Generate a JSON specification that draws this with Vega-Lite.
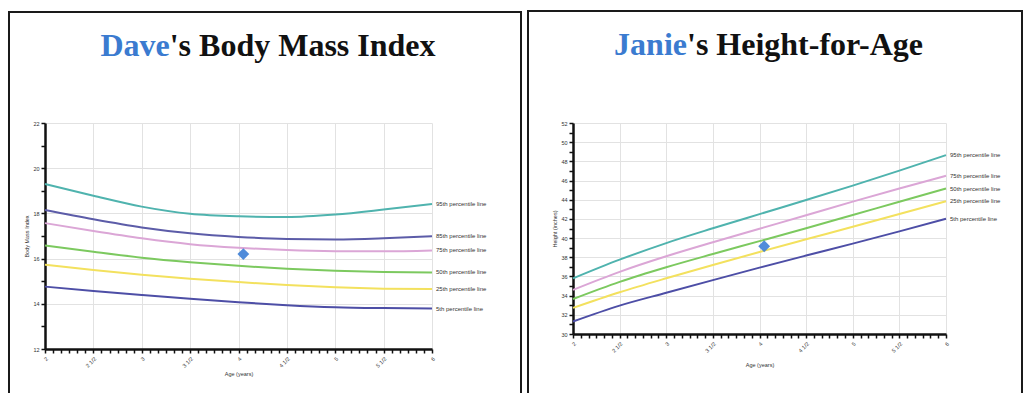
{
  "$schema": "https://vega.github.io/schema/vega-lite/v6.json",
  "padding": {"left": 7, "top": 10, "right": 0, "bottom": 0},
  "background": "white",
  "spacing": 3,
  "config": {
    "view": {"stroke": null},
    "font": "Liberation Sans",
    "axis": {
      "domainColor": "#111",
      "domainWidth": 2.5,
      "tickColor": "#111",
      "tickWidth": 1.5,
      "tickSize": 4,
      "tickCount": 100,
      "labelFontSize": 5.5,
      "labelColor": "#333",
      "labelFont": "Liberation Sans",
      "titleFontSize": 5.5,
      "titleFontWeight": "normal",
      "titleColor": "#333",
      "titleFont": "Liberation Sans",
      "gridColor": "#e2e2e2",
      "gridWidth": 1
    }
  },
  "datasets": {
    "bmi": [
      {"age": 2, "pct": "95th percentile line", "value": 19.3},
      {"age": 2.5, "pct": "95th percentile line", "value": 18.78},
      {"age": 3, "pct": "95th percentile line", "value": 18.3},
      {"age": 3.5, "pct": "95th percentile line", "value": 17.98},
      {"age": 4, "pct": "95th percentile line", "value": 17.87},
      {"age": 4.5, "pct": "95th percentile line", "value": 17.84},
      {"age": 5, "pct": "95th percentile line", "value": 17.95},
      {"age": 5.5, "pct": "95th percentile line", "value": 18.17},
      {"age": 6, "pct": "95th percentile line", "value": 18.42},
      {"age": 2, "pct": "85th percentile line", "value": 18.15},
      {"age": 2.5, "pct": "85th percentile line", "value": 17.74},
      {"age": 3, "pct": "85th percentile line", "value": 17.38},
      {"age": 3.5, "pct": "85th percentile line", "value": 17.12},
      {"age": 4, "pct": "85th percentile line", "value": 16.96},
      {"age": 4.5, "pct": "85th percentile line", "value": 16.87},
      {"age": 5, "pct": "85th percentile line", "value": 16.85},
      {"age": 5.5, "pct": "85th percentile line", "value": 16.9},
      {"age": 6, "pct": "85th percentile line", "value": 16.99},
      {"age": 2, "pct": "75th percentile line", "value": 17.57},
      {"age": 2.5, "pct": "75th percentile line", "value": 17.22},
      {"age": 3, "pct": "75th percentile line", "value": 16.9},
      {"age": 3.5, "pct": "75th percentile line", "value": 16.64},
      {"age": 4, "pct": "75th percentile line", "value": 16.48},
      {"age": 4.5, "pct": "75th percentile line", "value": 16.38},
      {"age": 5, "pct": "75th percentile line", "value": 16.33},
      {"age": 5.5, "pct": "75th percentile line", "value": 16.32},
      {"age": 6, "pct": "75th percentile line", "value": 16.36},
      {"age": 2, "pct": "50th percentile line", "value": 16.58},
      {"age": 2.5, "pct": "50th percentile line", "value": 16.3},
      {"age": 3, "pct": "50th percentile line", "value": 16.04},
      {"age": 3.5, "pct": "50th percentile line", "value": 15.84},
      {"age": 4, "pct": "50th percentile line", "value": 15.68},
      {"age": 4.5, "pct": "50th percentile line", "value": 15.55},
      {"age": 5, "pct": "50th percentile line", "value": 15.46},
      {"age": 5.5, "pct": "50th percentile line", "value": 15.41},
      {"age": 6, "pct": "50th percentile line", "value": 15.39},
      {"age": 2, "pct": "25th percentile line", "value": 15.73},
      {"age": 2.5, "pct": "25th percentile line", "value": 15.5},
      {"age": 3, "pct": "25th percentile line", "value": 15.29},
      {"age": 3.5, "pct": "25th percentile line", "value": 15.11},
      {"age": 4, "pct": "25th percentile line", "value": 14.96},
      {"age": 4.5, "pct": "25th percentile line", "value": 14.83},
      {"age": 5, "pct": "25th percentile line", "value": 14.73},
      {"age": 5.5, "pct": "25th percentile line", "value": 14.67},
      {"age": 6, "pct": "25th percentile line", "value": 14.65},
      {"age": 2, "pct": "5th percentile line", "value": 14.76},
      {"age": 2.5, "pct": "5th percentile line", "value": 14.57},
      {"age": 3, "pct": "5th percentile line", "value": 14.39},
      {"age": 3.5, "pct": "5th percentile line", "value": 14.22},
      {"age": 4, "pct": "5th percentile line", "value": 14.07},
      {"age": 4.5, "pct": "5th percentile line", "value": 13.94},
      {"age": 5, "pct": "5th percentile line", "value": 13.85},
      {"age": 5.5, "pct": "5th percentile line", "value": 13.81},
      {"age": 6, "pct": "5th percentile line", "value": 13.79}
    ],
    "height": [
      {"age": 2, "pct": "95th percentile line", "value": 35.8},
      {"age": 2.5, "pct": "95th percentile line", "value": 37.75},
      {"age": 3, "pct": "95th percentile line", "value": 39.48},
      {"age": 3.5, "pct": "95th percentile line", "value": 41.02},
      {"age": 4, "pct": "95th percentile line", "value": 42.5},
      {"age": 4.5, "pct": "95th percentile line", "value": 43.97},
      {"age": 5, "pct": "95th percentile line", "value": 45.47},
      {"age": 5.5, "pct": "95th percentile line", "value": 47.03},
      {"age": 6, "pct": "95th percentile line", "value": 48.65},
      {"age": 2, "pct": "75th percentile line", "value": 34.6},
      {"age": 2.5, "pct": "75th percentile line", "value": 36.48},
      {"age": 3, "pct": "75th percentile line", "value": 38.1},
      {"age": 3.5, "pct": "75th percentile line", "value": 39.56},
      {"age": 4, "pct": "75th percentile line", "value": 40.97},
      {"age": 4.5, "pct": "75th percentile line", "value": 42.38},
      {"age": 5, "pct": "75th percentile line", "value": 43.8},
      {"age": 5.5, "pct": "75th percentile line", "value": 45.17},
      {"age": 6, "pct": "75th percentile line", "value": 46.5},
      {"age": 2, "pct": "50th percentile line", "value": 33.65},
      {"age": 2.5, "pct": "50th percentile line", "value": 35.44},
      {"age": 3, "pct": "50th percentile line", "value": 36.96},
      {"age": 3.5, "pct": "50th percentile line", "value": 38.34},
      {"age": 4, "pct": "50th percentile line", "value": 39.68},
      {"age": 4.5, "pct": "50th percentile line", "value": 41.03},
      {"age": 5, "pct": "50th percentile line", "value": 42.41},
      {"age": 5.5, "pct": "50th percentile line", "value": 43.79},
      {"age": 6, "pct": "50th percentile line", "value": 45.17},
      {"age": 2, "pct": "25th percentile line", "value": 32.72},
      {"age": 2.5, "pct": "25th percentile line", "value": 34.35},
      {"age": 3, "pct": "25th percentile line", "value": 35.81},
      {"age": 3.5, "pct": "25th percentile line", "value": 37.2},
      {"age": 4, "pct": "25th percentile line", "value": 38.55},
      {"age": 4.5, "pct": "25th percentile line", "value": 39.87},
      {"age": 5, "pct": "25th percentile line", "value": 41.18},
      {"age": 5.5, "pct": "25th percentile line", "value": 42.51},
      {"age": 6, "pct": "25th percentile line", "value": 43.85},
      {"age": 2, "pct": "5th percentile line", "value": 31.3},
      {"age": 2.5, "pct": "5th percentile line", "value": 32.96},
      {"age": 3, "pct": "5th percentile line", "value": 34.3},
      {"age": 3.5, "pct": "5th percentile line", "value": 35.62},
      {"age": 4, "pct": "5th percentile line", "value": 36.92},
      {"age": 4.5, "pct": "5th percentile line", "value": 38.18},
      {"age": 5, "pct": "5th percentile line", "value": 39.42},
      {"age": 5.5, "pct": "5th percentile line", "value": 40.7},
      {"age": 6, "pct": "5th percentile line", "value": 42.02}
    ],
    "davePoint": [{"age": 4.05, "value": 16.2}],
    "janiePoint": [{"age": 4.05, "value": 39.15}],
    "daveTitle": [{"name": "Dave", "rest": "'s Body Mass Index"}],
    "janieTitle": [{"name": "Janie", "rest": "'s Height-for-Age"}]
  },
  "hconcat": [
    {
      "width": 387,
      "height": 226,
      "layer": [
        {
          "data": {"name": "bmi"},
          "mark": {"type": "line", "strokeWidth": 2, "interpolate": "monotone"},
          "encoding": {
            "x": {
              "field": "age", "type": "quantitative",
              "scale": {"domain": [2, 6], "nice": false, "zero": false},
              "axis": {
                "title": "Age (years)",
                "values": [2, 2.0833, 2.1667, 2.25, 2.3333, 2.4167, 2.5, 2.5833, 2.6667, 2.75, 2.8333, 2.9167, 3, 3.0833, 3.1667, 3.25, 3.3333, 3.4167, 3.5, 3.5833, 3.6667, 3.75, 3.8333, 3.9167, 4, 4.0833, 4.1667, 4.25, 4.3333, 4.4167, 4.5, 4.5833, 4.6667, 4.75, 4.8333, 4.9167, 5, 5.0833, 5.1667, 5.25, 5.3333, 5.4167, 5.5, 5.5833, 5.6667, 5.75, 5.8333, 5.9167, 6],
                "tickCount": 100,
                "labelExpr": "abs(datum.value*2-round(datum.value*2))<0.01 ? (abs(datum.value-round(datum.value))<0.01 ? format(round(datum.value),'d') : format(floor(datum.value),'d') + ' 1/2') : ''",
                "labelAngle": -45,
                "labelPadding": 3,
                "labelOverlap": false,
                "labelFlush": false,
                "titlePadding": 3,
                "grid": true,
                "gridOpacity": {"condition": {"test": "abs(datum.value*2-round(datum.value*2))<0.01", "value": 1}, "value": 0}
              }
            },
            "y": {
              "field": "value", "type": "quantitative",
              "scale": {"domain": [12, 22], "nice": false, "zero": false},
              "axis": {
                "title": "Body Mass Index",
                "values": [12, 13, 14, 15, 16, 17, 18, 19, 20, 21, 22],
                "tickCount": 100,
                "labelExpr": "datum.value % 2 == 0 ? format(datum.value, 'd') : ''",
                "labelPadding": 2,
                "labelOverlap": false,
                "labelFlush": false,
                "titlePadding": 3,
                "grid": true,
                "gridOpacity": {"condition": {"test": "datum.value % 2 == 0", "value": 1}, "value": 0}
              }
            },
            "color": {
              "field": "pct", "type": "nominal", "legend": null,
              "scale": {
                "domain": ["95th percentile line", "85th percentile line", "75th percentile line", "50th percentile line", "25th percentile line", "5th percentile line"],
                "range": ["#4fb3ae", "#5c5ca8", "#dba6d6", "#7cc95f", "#f3e15e", "#4d4ea6"]
              }
            },
            "detail": {"field": "pct"}
          }
        },
        {
          "data": {"name": "daveTitle"},
          "mark": {"type": "rect", "fillOpacity": 0, "stroke": "#1a1a1a", "strokeWidth": 2},
          "encoding": {
            "x": {"datum": 1.6279, "type": "quantitative"},
            "x2": {"datum": 6.9199},
            "y": {"datum": 26.912, "type": "quantitative"},
            "y2": {"datum": 9.257}
          }
        },
        {
          "data": {"name": "daveTitle"},
          "mark": {"type": "text", "align": "right", "baseline": "alphabetic", "font": "Liberation Serif", "fontWeight": "bold", "fontSize": 32, "color": "#3b7bd0"},
          "encoding": {
            "text": {"field": "name"},
            "x": {"datum": 3.289, "type": "quantitative"},
            "y": {"datum": 24.965, "type": "quantitative"}
          }
        },
        {
          "data": {"name": "daveTitle"},
          "mark": {"type": "text", "align": "left", "baseline": "alphabetic", "font": "Liberation Serif", "fontWeight": "bold", "fontSize": 32, "color": "#111"},
          "encoding": {
            "text": {"field": "rest"},
            "x": {"datum": 3.289, "type": "quantitative"},
            "y": {"datum": 24.965, "type": "quantitative"}
          }
        },
        {
          "data": {"name": "bmi"},
          "transform": [{"filter": "datum.age == 6"}],
          "mark": {"type": "text", "align": "left", "baseline": "middle", "dx": 4, "fontSize": 6, "color": "#333"},
          "encoding": {
            "x": {"field": "age", "type": "quantitative"},
            "y": {"field": "value", "type": "quantitative"},
            "text": {"field": "pct"}
          }
        },
        {
          "data": {"name": "davePoint"},
          "mark": {"type": "point", "shape": "diamond", "filled": true, "size": 140, "color": "#3d80d6", "opacity": 0.9},
          "encoding": {
            "x": {"field": "age", "type": "quantitative"},
            "y": {"field": "value", "type": "quantitative"}
          }
        }
      ]
    },
    {
      "width": 373,
      "height": 211,
      "layer": [
        {
          "data": {"name": "height"},
          "mark": {"type": "line", "strokeWidth": 2, "interpolate": "monotone"},
          "encoding": {
            "x": {
              "field": "age", "type": "quantitative",
              "scale": {"domain": [2, 6], "nice": false, "zero": false},
              "axis": {
                "title": "Age (years)",
                "values": [2, 2.0833, 2.1667, 2.25, 2.3333, 2.4167, 2.5, 2.5833, 2.6667, 2.75, 2.8333, 2.9167, 3, 3.0833, 3.1667, 3.25, 3.3333, 3.4167, 3.5, 3.5833, 3.6667, 3.75, 3.8333, 3.9167, 4, 4.0833, 4.1667, 4.25, 4.3333, 4.4167, 4.5, 4.5833, 4.6667, 4.75, 4.8333, 4.9167, 5, 5.0833, 5.1667, 5.25, 5.3333, 5.4167, 5.5, 5.5833, 5.6667, 5.75, 5.8333, 5.9167, 6],
                "tickCount": 100,
                "labelExpr": "abs(datum.value*2-round(datum.value*2))<0.01 ? (abs(datum.value-round(datum.value))<0.01 ? format(round(datum.value),'d') : format(floor(datum.value),'d') + ' 1/2') : ''",
                "labelAngle": -45,
                "labelPadding": 3,
                "labelOverlap": false,
                "labelFlush": false,
                "titlePadding": 9,
                "grid": true,
                "gridOpacity": {"condition": {"test": "abs(datum.value*2-round(datum.value*2))<0.01", "value": 1}, "value": 0}
              }
            },
            "y": {
              "field": "value", "type": "quantitative",
              "scale": {"domain": [30, 52], "nice": false, "zero": false},
              "axis": {
                "title": "Height (inches)",
                "values": [30, 31, 32, 33, 34, 35, 36, 37, 38, 39, 40, 41, 42, 43, 44, 45, 46, 47, 48, 49, 50, 51, 52],
                "tickCount": 100,
                "labelExpr": "datum.value % 2 == 0 ? format(datum.value, 'd') : ''",
                "labelPadding": 2,
                "labelOverlap": false,
                "labelFlush": false,
                "titlePadding": 3,
                "grid": true,
                "gridOpacity": {"condition": {"test": "datum.value % 2 == 0", "value": 1}, "value": 0}
              }
            },
            "color": {
              "field": "pct", "type": "nominal", "legend": null,
              "scale": {
                "domain": ["95th percentile line", "75th percentile line", "50th percentile line", "25th percentile line", "5th percentile line"],
                "range": ["#4fb3ae", "#dba6d6", "#7cc95f", "#f3e15e", "#4d4ea6"]
              }
            },
            "detail": {"field": "pct"}
          }
        },
        {
          "data": {"name": "janieTitle"},
          "mark": {"type": "rect", "fillOpacity": 0, "stroke": "#1a1a1a", "strokeWidth": 2},
          "encoding": {
            "x": {"datum": 1.5174, "type": "quantitative"},
            "x2": {"datum": 6.815},
            "y": {"datum": 63.677, "type": "quantitative"},
            "y2": {"datum": 22.08}
          }
        },
        {
          "data": {"name": "janieTitle"},
          "mark": {"type": "text", "align": "right", "baseline": "alphabetic", "font": "Liberation Serif", "fontWeight": "bold", "fontSize": 32, "color": "#3b7bd0"},
          "encoding": {
            "text": {"field": "name"},
            "x": {"datum": 3.2225, "type": "quantitative"},
            "y": {"datum": 59.09, "type": "quantitative"}
          }
        },
        {
          "data": {"name": "janieTitle"},
          "mark": {"type": "text", "align": "left", "baseline": "alphabetic", "font": "Liberation Serif", "fontWeight": "bold", "fontSize": 32, "color": "#111"},
          "encoding": {
            "text": {"field": "rest"},
            "x": {"datum": 3.2225, "type": "quantitative"},
            "y": {"datum": 59.09, "type": "quantitative"}
          }
        },
        {
          "data": {"name": "height"},
          "transform": [{"filter": "datum.age == 6"}],
          "mark": {"type": "text", "align": "left", "baseline": "middle", "dx": 4, "fontSize": 6, "color": "#333"},
          "encoding": {
            "x": {"field": "age", "type": "quantitative"},
            "y": {"field": "value", "type": "quantitative"},
            "text": {"field": "pct"}
          }
        },
        {
          "data": {"name": "janiePoint"},
          "mark": {"type": "point", "shape": "diamond", "filled": true, "size": 140, "color": "#3d80d6", "opacity": 0.9},
          "encoding": {
            "x": {"field": "age", "type": "quantitative"},
            "y": {"field": "value", "type": "quantitative"}
          }
        }
      ],
      "resolve": {"scale": {"color": "independent"}}
    }
  ],
  "resolve": {"scale": {"color": "independent"}}
}
